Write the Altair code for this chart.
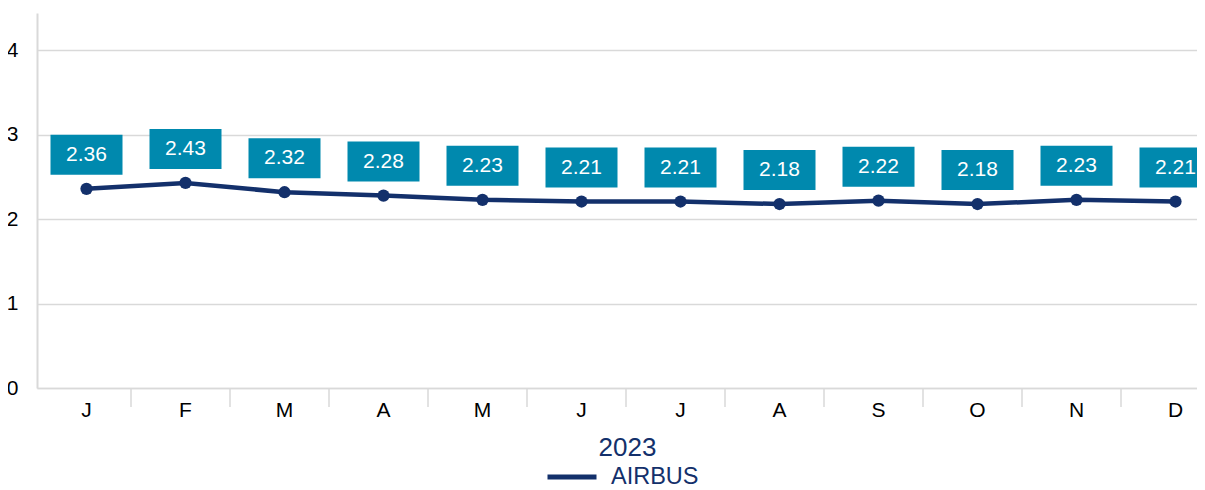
import altair as alt
import pandas as pd

months = ["Jan", "Feb", "Mar", "Apr", "May", "Jun", "Jul", "Aug", "Sep", "Oct", "Nov", "Dec"]
values = [2.36, 2.43, 2.32, 2.28, 2.23, 2.21, 2.21, 2.18, 2.22, 2.18, 2.23, 2.21]
series = "AIRBUS"
y_ticks = [0, 1, 2, 3, 4]
year_title = "2023"

NAVY = "#13306B"
TEAL = "#0089AE"
GRID = "#D9D9D9"
FONT = "Liberation Sans"

df = pd.DataFrame({"month": months, "value": values, "series": [series] * len(months)})

x_enc = alt.X(
    "month:N",
    sort=months,
    scale=alt.Scale(domain=months, paddingInner=0, paddingOuter=0),
    axis=alt.Axis(
        title=year_title,
        labelExpr="substring(datum.value, 0, 1)",
        labelAngle=0,
        labelFontSize=21,
        labelFont=FONT,
        labelColor="#000000",
        labelBaseline="alphabetic",
        labelPadding=28,
        ticks=False,
        tickSize=0,
        domainColor=GRID,
        domainWidth=1.5,
        grid=False,
        titleFont=FONT,
        titleFontSize=26,
        titleFontWeight="normal",
        titleColor=NAVY,
        titleAlign="center",
        titleBaseline="alphabetic",
        titleX=590,
        titleY=67,
    ),
)

y_enc = alt.Y(
    "value:Q",
    scale=alt.Scale(domain=[0, 4.444], nice=False, zero=True),
    axis=alt.Axis(
        title=None,
        values=y_ticks,
        ticks=False,
        tickSize=0,
        labelFontSize=21,
        labelFont=FONT,
        labelColor="#000000",
        labelPadding=19,
        domainColor=GRID,
        domainWidth=2,
        gridColor=GRID,
        gridWidth=1.5,
    ),
)

base = alt.Chart(df)

separators = (
    base.transform_filter(alt.datum.month != months[0])
    .mark_rule(color=GRID, strokeWidth=1.5, xOffset=-54.5)
    .encode(x=x_enc, y=alt.value(375), y2=alt.value(394))
)

line = base.mark_line(strokeWidth=4.5).encode(
    x=x_enc,
    y=y_enc,
    color=alt.Color(
        "series:N",
        scale=alt.Scale(domain=[series], range=[NAVY]),
        legend=alt.Legend(
            title=None,
            orient="none",
            legendX=508,
            legendY=437,
            symbolType="stroke",
            symbolSize=2401,
            symbolStrokeWidth=5,
            labelFontSize=23.5,
            labelFont=FONT,
            labelColor=NAVY,
            labelOffset=12,
            padding=0,
        ),
    ),
)

points = base.mark_circle(size=150, color=NAVY, opacity=1).encode(x=x_enc, y=y_enc)

boxes = base.mark_rect(width=72, height=40, yOffset=-34, color=TEAL).encode(x=x_enc, y=y_enc)

labels = base.mark_text(
    dy=-34, baseline="middle", align="center", color="white", fontSize=21, font=FONT
).encode(x=x_enc, y=y_enc, text=alt.Text("value:Q", format=".2f"))

chart = (
    alt.layer(separators, line, points, boxes, labels)
    .properties(
        width=1188,
        height=375,
        autosize=alt.AutoSizeParams(type="none"),
        padding={"left": 29, "top": 5, "right": -28, "bottom": 102},
    )
    .configure_view(stroke=None)
)

chart.save("out.html", embed_options={"renderer": "svg", "actions": False})
